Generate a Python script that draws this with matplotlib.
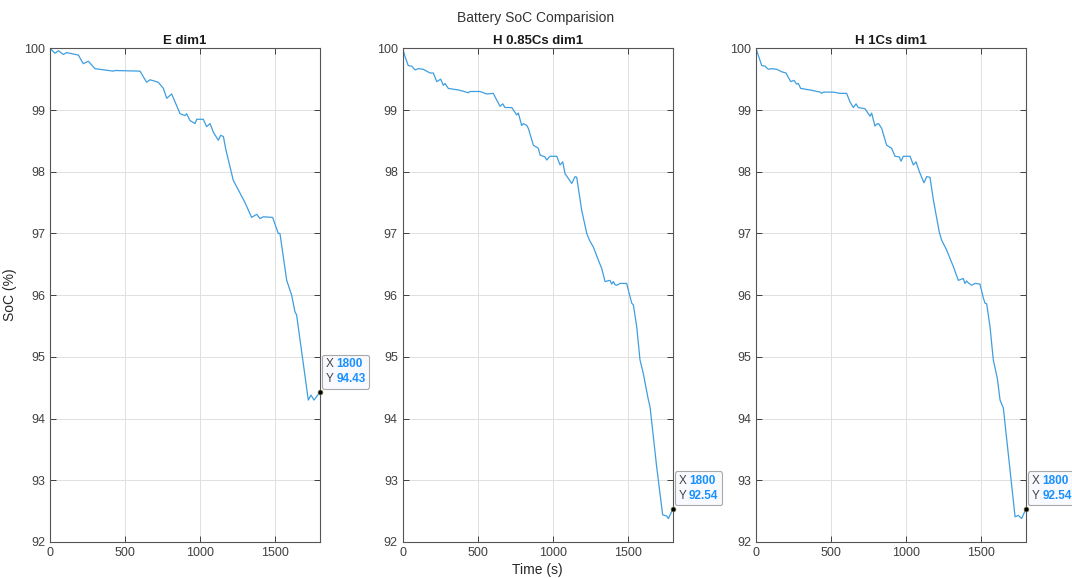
import matplotlib
matplotlib.use("Agg")
import matplotlib.pyplot as plt
from matplotlib.offsetbox import TextArea, HPacker, VPacker, AnnotationBbox

plt.rcParams['font.family'] = ['Liberation Sans', 'DejaVu Sans']

# SoC traces (time in s, SoC in %)
e_time = [0, 33, 56, 89, 111, 189, 222, 256, 300, 422, 433, 600, 644, 667, 722,
          756, 778, 811, 867, 900, 911, 933, 967, 978, 1022, 1044, 1067, 1089,
          1122, 1138, 1156, 1173, 1222, 1300, 1344, 1378, 1400, 1422, 1484, 1522,
          1533, 1578, 1611, 1633, 1644, 1722, 1740, 1760, 1800]
e_soc = [100.0, 99.92, 99.96, 99.90, 99.93, 99.89, 99.75, 99.79, 99.67, 99.63,
         99.64, 99.63, 99.45, 99.49, 99.45, 99.35, 99.19, 99.26, 98.94, 98.91,
         98.94, 98.83, 98.78, 98.85, 98.85, 98.73, 98.78, 98.64, 98.51, 98.59,
         98.57, 98.35, 97.86, 97.50, 97.26, 97.31, 97.24, 97.27, 97.26, 97.00,
         97.00, 96.24, 96.00, 95.73, 95.68, 94.30, 94.38, 94.30, 94.43]

h085_time = [0, 15, 37, 60, 82, 104, 137, 182, 204, 227, 253, 271, 282, 304, 382,
             437, 449, 515, 560, 604, 627, 649, 667, 682, 727, 760, 771, 793, 804,
             827, 838, 871, 904, 916, 949, 960, 982, 1027, 1049, 1067, 1082, 1127,
             1149, 1160, 1193, 1227, 1245, 1271, 1304, 1327, 1349, 1382, 1393,
             1404, 1415, 1427, 1449, 1482, 1493, 1516, 1527, 1538, 1560, 1582,
             1604, 1638, 1649, 1693, 1733, 1760, 1771, 1787, 1800]
h085_soc = [100.0, 99.87, 99.72, 99.71, 99.65, 99.67, 99.66, 99.60, 99.60, 99.46,
            99.50, 99.40, 99.43, 99.35, 99.32, 99.28, 99.30, 99.30, 99.26, 99.27,
            99.16, 99.06, 99.10, 99.04, 99.04, 98.92, 98.95, 98.75, 98.78, 98.75,
            98.70, 98.43, 98.38, 98.27, 98.24, 98.19, 98.25, 98.25, 98.11, 98.16,
            97.97, 97.81, 97.92, 97.91, 97.38, 97.00, 96.89, 96.78, 96.57, 96.43,
            96.22, 96.24, 96.18, 96.22, 96.17, 96.16, 96.19, 96.19, 96.19, 95.97,
            95.87, 95.84, 95.49, 94.95, 94.73, 94.30, 94.19, 93.22, 92.44, 92.42,
            92.38, 92.46, 92.54]

h1_time = [0, 15, 38, 60, 82, 104, 138, 171, 200, 231, 253, 271, 282, 298, 371,
           427, 438, 449, 516, 560, 604, 627, 649, 667, 682, 727, 760, 771, 793,
           804, 817, 838, 871, 904, 927, 955, 967, 982, 1027, 1049, 1067, 1089,
           1120, 1138, 1160, 1182, 1222, 1238, 1271, 1316, 1349, 1382, 1393, 1404,
           1415, 1438, 1460, 1493, 1516, 1527, 1538, 1560, 1582, 1609, 1627, 1649,
           1727, 1749, 1771, 1800]
h1_soc = [100.0, 99.89, 99.72, 99.71, 99.66, 99.67, 99.66, 99.62, 99.60, 99.46,
          99.48, 99.42, 99.43, 99.35, 99.32, 99.29, 99.27, 99.29, 99.29, 99.27,
          99.27, 99.13, 99.04, 99.10, 99.04, 99.02, 98.90, 98.95, 98.74, 98.77,
          98.78, 98.70, 98.43, 98.38, 98.25, 98.24, 98.17, 98.25, 98.25, 98.11,
          98.16, 98.00, 97.82, 97.92, 97.91, 97.55, 97.02, 96.89, 96.73, 96.46,
          96.24, 96.27, 96.19, 96.23, 96.20, 96.16, 96.19, 96.18, 95.95, 95.87,
          95.86, 95.49, 94.95, 94.65, 94.30, 94.17, 92.41, 92.43, 92.38, 92.54]

series = [
    ("E dim1", e_time, e_soc),
    ("H 0.85Cs dim1", h085_time, h085_soc),
    ("H 1Cs dim1", h1_time, h1_soc),
]

x_ticks = [0, 500, 1000, 1500]
y_ticks = [92, 93, 94, 95, 96, 97, 98, 99, 100]

W, H = 1072, 578
fig = plt.figure(figsize=(W / 100, H / 100), dpi=100)

axis_col = '#262626'
line_col = '#3f9ee0'
tip_blue = '#1a90ff'

lefts = [50, 402.7, 756]
ax_w = 270
top, bottom = 48.3, 542

axes = []
for left, (title, t, soc) in zip(lefts, series):
    ax = fig.add_axes([left / W, 1 - bottom / H, ax_w / W, (bottom - top) / H])
    axes.append(ax)
    ax.plot(t, soc, color=line_col, lw=0.9)
    ax.set_xlim(0, 1800)
    ax.set_ylim(92, 100)
    ax.set_xticks(x_ticks)
    ax.set_yticks(y_ticks)
    ax.grid(True, color='#e0e0e0', lw=0.7)
    ax.set_axisbelow(True)
    ax.tick_params(direction='in', top=True, right=True, length=4,
                   width=0.6, colors=axis_col, labelsize=9, labelcolor='#404040')
    for sp in ax.spines.values():
        sp.set_color('#555555')
        sp.set_linewidth(0.8)
    ax.set_title(title, fontsize=9.5, fontweight='bold', color='#1a1a1a', pad=3)

    # data tip on the last sample
    xt, yt = t[-1], soc[-1]
    row_x = HPacker(children=[
        TextArea("X", textprops=dict(color='#444444', fontsize=8.5)),
        TextArea(f"{xt:d}", textprops=dict(color=tip_blue, fontsize=8.5,
                                           fontweight='bold'))], pad=0, sep=2)
    row_y = HPacker(children=[
        TextArea("Y", textprops=dict(color='#444444', fontsize=8.5)),
        TextArea(f"{yt:.2f}", textprops=dict(color=tip_blue, fontsize=8.5,
                                             fontweight='bold'))], pad=0, sep=2)
    box = VPacker(children=[row_x, row_y], pad=0, sep=2, align='left')
    ab = AnnotationBbox(box, (xt, yt), xybox=(4, 5), xycoords='data',
                        boxcoords='offset points', box_alignment=(0, 0),
                        frameon=True, pad=0.25, annotation_clip=False,
                        bboxprops=dict(edgecolor='#a8a8a8', facecolor='#f8faff',
                                       lw=0.8, boxstyle='round,pad=0.25,rounding_size=0.15'))
    ab.set_zorder(6)
    ax.add_artist(ab)
    ax.plot([xt], [yt], marker='o', ms=3.4, mfc='black', mec='#6b6b3a',
            mew=0.5, clip_on=False, zorder=7)

axes[0].set_ylabel("SoC (%)", fontsize=10, color='#262626', labelpad=5)
axes[1].set_xlabel("Time (s)", fontsize=10, color='#262626', labelpad=3)
fig.text(0.5, 1 - 18 / H, "Battery SoC Comparision", ha='center', va='center',
         fontsize=10, color='#333333')

fig.savefig("out.png", dpi=100, facecolor='white')
